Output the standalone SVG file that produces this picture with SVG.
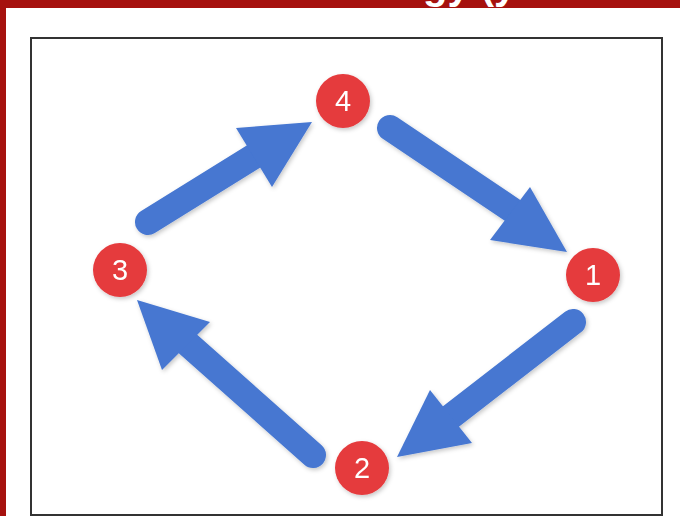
<svg xmlns="http://www.w3.org/2000/svg" width="680" height="516" viewBox="0 0 680 516">
<defs>
<style>
.shaft{stroke:#4677D1;stroke-width:26;stroke-linecap:round;fill:none}
.head{fill:#4677D1}
.node circle{fill:#E53A3D}
.node text{font-family:"Liberation Sans",Arial,sans-serif;font-size:29px;fill:#ffffff;text-anchor:middle}
.title{font-family:"Liberation Sans",Arial,sans-serif;font-size:40px;font-weight:bold;fill:#ffffff}
</style>
<filter id="sh" x="-20%" y="-20%" width="140%" height="140%">
<feDropShadow dx="1.5" dy="2" stdDeviation="2" flood-color="#000" flood-opacity="0.22"/>
</filter>
<clipPath id="band"><rect x="0" y="0" width="680" height="8"/></clipPath>
</defs>
<rect x="0" y="0" width="680" height="516" fill="#ffffff"/>
<rect x="0" y="0" width="680" height="8" fill="#A6110E"/>
<rect x="0" y="0" width="6" height="516" fill="#A6110E"/>
<text class="title" x="423" y="-1" clip-path="url(#band)">gy (y</text>
<rect x="31" y="38" width="631" height="477" fill="#ffffff" stroke="#333333" stroke-width="2"/>
<g id="connectors" filter="url(#sh)">
<g id="c3to4">
<line class="shaft" x1="148" y1="222" x2="256" y2="155"/>
<polygon class="head" points="312,122 236,128 272,187"/>
</g>
<g id="c4to1">
<line class="shaft" x1="390" y1="128" x2="512" y2="210"/>
<polygon class="head" points="567,252 530,187 490,240"/>
</g>
<g id="c1to2">
<line class="shaft" x1="573" y1="322" x2="449" y2="418"/>
<polygon class="head" points="397,457 430,390 472,443"/>
</g>
<g id="c2to3">
<line class="shaft" x1="313" y1="455" x2="188" y2="344"/>
<polygon class="head" points="137,300 210,322 162,370"/>
</g>
</g>
<g id="node4" class="node" filter="url(#sh)"><circle cx="343" cy="101" r="27"/><text x="343" y="111">4</text></g>
<g id="node1" class="node" filter="url(#sh)"><circle cx="593" cy="275" r="27"/><text x="593" y="285">1</text></g>
<g id="node2" class="node" filter="url(#sh)"><circle cx="362" cy="468" r="27"/><text x="362" y="478">2</text></g>
<g id="node3" class="node" filter="url(#sh)"><circle cx="120" cy="270" r="27"/><text x="120" y="280">3</text></g>
</svg>
